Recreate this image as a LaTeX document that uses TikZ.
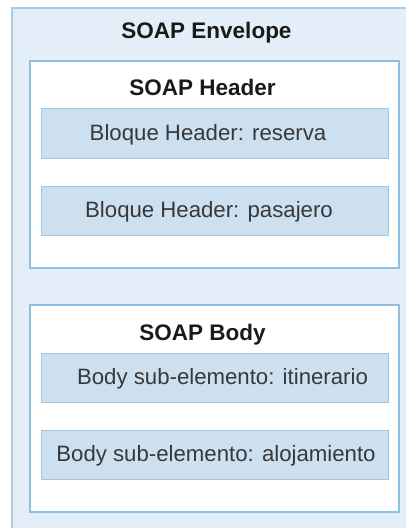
\documentclass[tikz,border=0pt]{standalone}
\usepackage{fontspec}
\setmainfont{Liberation Sans}
\definecolor{envfill}{HTML}{E4EEF8}
\definecolor{envline}{HTML}{A9CCE6}
\definecolor{boxline}{HTML}{8FBFE2}
\definecolor{blkfill}{HTML}{CCE0F0}
\definecolor{blkline}{HTML}{9FC6E3}
\definecolor{titletext}{HTML}{1A1A1A}
\definecolor{blktext}{HTML}{383838}
\begin{document}
\begin{tikzpicture}[x=1pt,y=-1pt,
  envelope/.style={fill=envfill, draw=envline, line width=1.5pt, anchor=north west, inner sep=0pt},
  section/.style={fill=white, draw=boxline, line width=1.5pt, minimum width=369pt, minimum height=207pt, inner sep=0pt},
  block/.style={fill=blkfill, draw=blkline, line width=1pt, minimum width=347pt, inner sep=0pt},
  title/.style={text=titletext, font=\fontsize{22.5}{24}\selectfont\bfseries, inner sep=0pt, anchor=base},
  blocktext/.style={text=blktext, font=\fontsize{22.2}{24}\selectfont, inner sep=0pt, anchor=base}]
\useasboundingbox (0,0) rectangle (406,528);
\node[envelope, minimum width=420pt, minimum height=540pt] (env) at (11,7) {};
\node[title] (envt) at (206.5,38) {SOAP Envelope};
\node[section] (hdr) at (214.5,164.5) {};
\node[title] (hdrt) at (202.5,95) {SOAP Header};
\node[block, minimum height=50pt] (b1) at (214.5,133) {};
\node[blocktext] (b1t) at (208,140) {Bloque Header: reserva};
\node[block, minimum height=49pt] (b2) at (214.5,210.5) {};
\node[blocktext] (b2t) at (209,217) {Bloque Header: pasajero};
\node[section] (body) at (214.5,408.5) {};
\node[title] (bodyt) at (202.5,340) {SOAP Body};
\node[block, minimum height=49pt] (b3) at (214.5,377.5) {};
\node[blocktext] (b3t) at (222.5,384) {Body sub-elemento: itinerario};
\node[block, minimum height=49pt] (b4) at (214.5,454.5) {};
\node[blocktext] (b4t) at (216,461) {Body sub-elemento: alojamiento};
\end{tikzpicture}
\end{document}
